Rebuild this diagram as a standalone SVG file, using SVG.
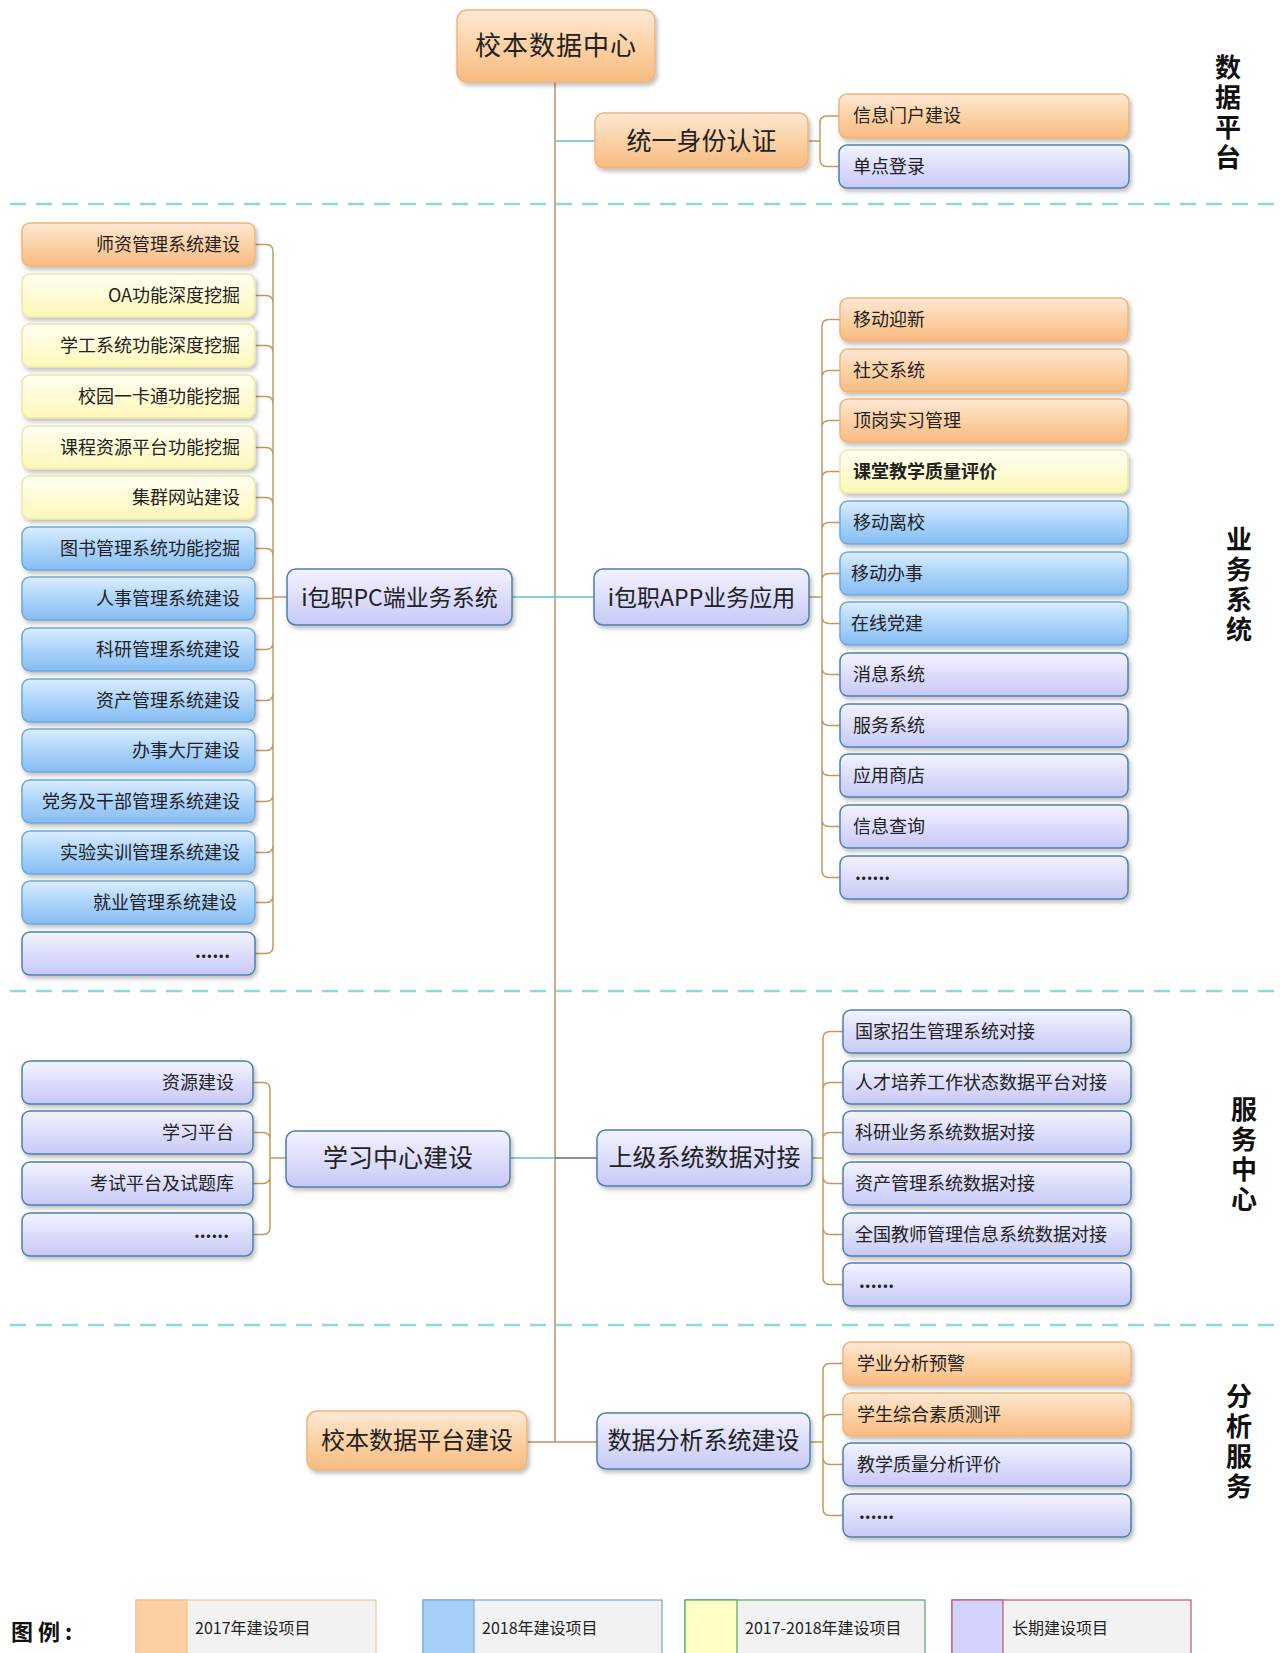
<svg xmlns="http://www.w3.org/2000/svg" width="1281" height="1653" viewBox="0 0 1281 1653">
<defs>
<linearGradient id="gO" x1="0" y1="0" x2="0" y2="1"><stop offset="0" stop-color="#fee9d5"/><stop offset="0.45" stop-color="#fcd4aa"/><stop offset="1" stop-color="#f8bb80"/></linearGradient>
<linearGradient id="gY" x1="0" y1="0" x2="0" y2="1"><stop offset="0" stop-color="#fffff2"/><stop offset="1" stop-color="#fff7b9"/></linearGradient>
<linearGradient id="gB" x1="0" y1="0" x2="0" y2="1"><stop offset="0" stop-color="#dbeeff"/><stop offset="0.45" stop-color="#b0d6fb"/><stop offset="1" stop-color="#86bdf2"/></linearGradient>
<linearGradient id="gL" x1="0" y1="0" x2="0" y2="1"><stop offset="0" stop-color="#f3f3ff"/><stop offset="1" stop-color="#c7c9f6"/></linearGradient>
<filter id="sh" x="-10%" y="-20%" width="125%" height="150%"><feDropShadow dx="2" dy="3" stdDeviation="2" flood-color="#000" flood-opacity="0.25"/></filter>
</defs>
<style>
rect.n{stroke-width:1.5;filter:url(#sh)}
.o{fill:url(#gO);stroke:#efb47c}
.y{fill:url(#gY);stroke:#ece6a6}
.b{fill:url(#gB);stroke:#6ea8de}
.l{fill:url(#gL);stroke:#4f7fae}
text{font-family:"Noto Sans CJK SC","Noto Sans CJK JP",sans-serif;fill:#222}
.t{font-size:18px}
.r{text-anchor:end}
.c{text-anchor:middle}
.h{font-size:24px;text-anchor:middle}
.side{font-size:26px;font-weight:bold;fill:#111;writing-mode:vertical-rl;letter-spacing:4px}
.dash{stroke:#8fd8dc;stroke-width:2.5;stroke-dasharray:16 10;fill:none}
.trunk{stroke:#b8946a;stroke-width:1.5;fill:none}
.br{stroke:#c39a5e;stroke-width:1.5;fill:none}
.teal{stroke:#5fc4cc;stroke-width:1.5;fill:none}
.dk{stroke:#56707e;stroke-width:1.5;fill:none}
.lg{font-size:16px;fill:#222}
</style>
<rect x="0" y="0" width="1281" height="1653" fill="#ffffff"/>
<g id="dividers">
<path class="dash" d="M10,204 H1281"/>
<path class="dash" d="M10,991 H1281"/>
<path class="dash" d="M10,1325 H1281"/>
</g>
<g id="section-labels">
<text class="side" x="1228" y="54">数据平台</text>
<text class="side" x="1239" y="526">业务系统</text>
<text class="side" x="1244" y="1096">服务中心</text>
<text class="side" x="1239" y="1383">分析服务</text>
</g>
<g id="connectors">
<path class="trunk" d="M555,82 V1442"/>
<path class="teal" d="M555,141 H595"/>
<path class="teal" d="M512,597 H555"/>
<path class="teal" d="M555,597 H594"/>
<path class="teal" d="M510,1158 H555"/>
<path class="dk" d="M555,1158 H597"/>
<path class="trunk" d="M527,1442 H597"/>
<path class="br" d="M808,141 H820 M839,116 H827 Q820,116 820,123 V159.5 Q820,166.5 827,166.5 H840"/>
<path class="br" d="M287,597 H273 M273,251.5 V946.5 M255,244.5 H266 Q273,244.5 273,251.5 M255,953.5 H266 Q273,953.5 273,946.5
M255,295.5 H266 Q273,295.5 273,302.5 M255,345.5 H266 Q273,345.5 273,352.5 M255,396.5 H266 Q273,396.5 273,403.5 M255,447.5 H266 Q273,447.5 273,454.5 M255,497.5 H266 Q273,497.5 273,504.5 M255,548.5 H266 Q273,548.5 273,555.5
M255,598.5 H273
M255,649.5 H266 Q273,649.5 273,642.5 M255,700.5 H266 Q273,700.5 273,693.5 M255,750.5 H266 Q273,750.5 273,743.5 M255,801.5 H266 Q273,801.5 273,794.5 M255,852.5 H266 Q273,852.5 273,845.5 M255,902.5 H266 Q273,902.5 273,895.5"/>
<path class="br" d="M809,597 H822 M822,326.5 V870.5 M840,319.5 H829 Q822,319.5 822,326.5 M840,877.5 H829 Q822,877.5 822,870.5
M840,370.5 H829 Q822,370.5 822,377.5 M840,420.5 H829 Q822,420.5 822,427.5 M840,471.5 H829 Q822,471.5 822,478.5 M840,522.5 H829 Q822,522.5 822,529.5 M840,573.5 H829 Q822,573.5 822,580.5
M840,623.5 H829 Q822,623.5 822,616.5 M840,674.5 H829 Q822,674.5 822,667.5 M840,725.5 H829 Q822,725.5 822,718.5 M840,775.5 H829 Q822,775.5 822,768.5 M840,826.5 H829 Q822,826.5 822,819.5"/>
<path class="br" d="M286,1158 H270 M270,1089.5 V1227.5 M253,1082.5 H263 Q270,1082.5 270,1089.5 M253,1234.5 H263 Q270,1234.5 270,1227.5 M253,1132.5 H263 Q270,1132.5 270,1139.5 M253,1183.5 H263 Q270,1183.5 270,1176.5"/>
<path class="br" d="M812,1158 H823 M823,1038.5 V1277.5 M843,1031.5 H830 Q823,1031.5 823,1038.5 M843,1284.5 H830 Q823,1284.5 823,1277.5 M843,1082.5 H830 Q823,1082.5 823,1089.5 M843,1132.5 H830 Q823,1132.5 823,1139.5 M843,1183.5 H830 Q823,1183.5 823,1176.5 M843,1234.5 H830 Q823,1234.5 823,1227.5"/>
<path class="br" d="M810,1442 H823 M823,1370.5 V1508.5 M843,1363.5 H830 Q823,1363.5 823,1370.5 M843,1515.5 H830 Q823,1515.5 823,1508.5 M843,1414.5 H830 Q823,1414.5 823,1421.5 M843,1464.5 H830 Q823,1464.5 823,1457.5"/>
</g>
<g id="root"><rect class="n o" x="457" y="10" width="198" height="72" rx="10"/><text x="556" y="55" class="c" style="font-size:26px;letter-spacing:1px">校本数据中心</text></g>
<g id="tysfrz"><rect class="n o" x="595" y="113" width="213" height="55" rx="9"/><text x="701.5" y="150" class="h" style="font-size:25px">统一身份认证</text></g>
<g id="xxmh"><rect class="n o" x="839" y="94" width="290" height="44" rx="8"/><text class="t" x="853" y="122">信息门户建设</text></g>
<g id="dddl"><rect class="n l" x="839" y="145" width="290" height="43" rx="8"/><text class="t" x="853" y="173">单点登录</text></g>

<g id="pc"><rect class="n l" x="287" y="569" width="225" height="56" rx="9"/><text x="399.5" y="606" class="h" style="font-size:23px">i包职PC端业务系统</text></g>
<g id="app"><rect class="n l" x="594" y="569" width="215" height="56" rx="9"/><text x="701.5" y="606" class="h" style="font-size:23px">i包职APP业务应用</text></g>

<g id="pc1"><rect class="n o" x="22" y="223" width="233" height="43" rx="8"/><text class="t r" x="240" y="251">师资管理系统建设</text></g>
<g id="pc2"><rect class="n y" x="22" y="274" width="233" height="43" rx="8"/><text class="t r" x="240" y="302">OA功能深度挖掘</text></g>
<g id="pc3"><rect class="n y" x="22" y="324" width="233" height="43" rx="8"/><text class="t r" x="240" y="352">学工系统功能深度挖掘</text></g>
<g id="pc4"><rect class="n y" x="22" y="375" width="233" height="43" rx="8"/><text class="t r" x="240" y="403">校园一卡通功能挖掘</text></g>
<g id="pc5"><rect class="n y" x="22" y="426" width="233" height="43" rx="8"/><text class="t r" x="240" y="454">课程资源平台功能挖掘</text></g>
<g id="pc6"><rect class="n y" x="22" y="476" width="233" height="43" rx="8"/><text class="t r" x="240" y="504">集群网站建设</text></g>
<g id="pc7"><rect class="n b" x="22" y="527" width="233" height="43" rx="8"/><text class="t r" x="240" y="555">图书管理系统功能挖掘</text></g>
<g id="pc8"><rect class="n b" x="22" y="577" width="233" height="43" rx="8"/><text class="t r" x="240" y="605">人事管理系统建设</text></g>
<g id="pc9"><rect class="n b" x="22" y="628" width="233" height="43" rx="8"/><text class="t r" x="240" y="656">科研管理系统建设</text></g>
<g id="pc10"><rect class="n b" x="22" y="679" width="233" height="43" rx="8"/><text class="t r" x="240" y="707">资产管理系统建设</text></g>
<g id="pc11"><rect class="n b" x="22" y="729" width="233" height="43" rx="8"/><text class="t r" x="240" y="757">办事大厅建设</text></g>
<g id="pc12"><rect class="n b" x="22" y="780" width="233" height="43" rx="8"/><text class="t r" x="240" y="808">党务及干部管理系统建设</text></g>
<g id="pc13"><rect class="n b" x="22" y="831" width="233" height="43" rx="8"/><text class="t r" x="240" y="859">实验实训管理系统建设</text></g>
<g id="pc14"><rect class="n b" x="22" y="881" width="233" height="43" rx="8"/><text class="t r" x="237" y="909">就业管理系统建设</text></g>
<g id="pc15"><rect class="n l" x="22" y="932" width="233" height="43" rx="8"/><text class="t r" x="230" y="958" style="font-weight:bold">......</text></g>

<g id="app1"><rect class="n o" x="840" y="298" width="288" height="43" rx="8"/><text class="t" x="853" y="326">移动迎新</text></g>
<g id="app2"><rect class="n o" x="840" y="349" width="288" height="43" rx="8"/><text class="t" x="853" y="377">社交系统</text></g>
<g id="app3"><rect class="n o" x="840" y="399" width="288" height="43" rx="8"/><text class="t" x="853" y="427">顶岗实习管理</text></g>
<g id="app4"><rect class="n y" x="840" y="450" width="288" height="43" rx="8"/><text class="t" x="853" y="478" style="font-weight:bold">课堂教学质量评价</text></g>
<g id="app5"><rect class="n b" x="840" y="501" width="288" height="43" rx="8"/><text class="t" x="853" y="529">移动离校</text></g>
<g id="app6"><rect class="n b" x="840" y="552" width="288" height="43" rx="8"/><text class="t" x="851" y="580">移动办事</text></g>
<g id="app7"><rect class="n b" x="840" y="602" width="288" height="43" rx="8"/><text class="t" x="851" y="630">在线党建</text></g>
<g id="app8"><rect class="n l" x="840" y="653" width="288" height="43" rx="8"/><text class="t" x="853" y="681">消息系统</text></g>
<g id="app9"><rect class="n l" x="840" y="704" width="288" height="43" rx="8"/><text class="t" x="853" y="732">服务系统</text></g>
<g id="app10"><rect class="n l" x="840" y="754" width="288" height="43" rx="8"/><text class="t" x="853" y="782">应用商店</text></g>
<g id="app11"><rect class="n l" x="840" y="805" width="288" height="43" rx="8"/><text class="t" x="853" y="833">信息查询</text></g>
<g id="app12"><rect class="n l" x="840" y="856" width="288" height="43" rx="8"/><text class="t" x="855" y="880" style="font-weight:bold">......</text></g>

<g id="xxzx"><rect class="n l" x="286" y="1131" width="224" height="56" rx="9"/><text x="398" y="1167" class="h" style="font-size:25px">学习中心建设</text></g>
<g id="xx1"><rect class="n l" x="22" y="1061" width="231" height="43" rx="8"/><text class="t r" x="234" y="1089">资源建设</text></g>
<g id="xx2"><rect class="n l" x="22" y="1111" width="231" height="43" rx="8"/><text class="t r" x="234" y="1139">学习平台</text></g>
<g id="xx3"><rect class="n l" x="22" y="1162" width="231" height="43" rx="8"/><text class="t r" x="234" y="1190">考试平台及试题库</text></g>
<g id="xx4"><rect class="n l" x="22" y="1213" width="231" height="43" rx="8"/><text class="t r" x="229" y="1238" style="font-weight:bold">......</text></g>

<g id="sjdj"><rect class="n l" x="597" y="1130" width="215" height="56" rx="9"/><text x="704.5" y="1166" class="h">上级系统数据对接</text></g>
<g id="dj1"><rect class="n l" x="843" y="1010" width="288" height="43" rx="8"/><text class="t" x="855" y="1038">国家招生管理系统对接</text></g>
<g id="dj2"><rect class="n l" x="843" y="1061" width="288" height="43" rx="8"/><text class="t" x="855" y="1089">人才培养工作状态数据平台对接</text></g>
<g id="dj3"><rect class="n l" x="843" y="1111" width="288" height="43" rx="8"/><text class="t" x="855" y="1139">科研业务系统数据对接</text></g>
<g id="dj4"><rect class="n l" x="843" y="1162" width="288" height="43" rx="8"/><text class="t" x="855" y="1190">资产管理系统数据对接</text></g>
<g id="dj5"><rect class="n l" x="843" y="1213" width="288" height="43" rx="8"/><text class="t" x="855" y="1241">全国教师管理信息系统数据对接</text></g>
<g id="dj6"><rect class="n l" x="843" y="1263" width="288" height="43" rx="8"/><text class="t" x="859" y="1288" style="font-weight:bold">......</text></g>

<g id="xbpt"><rect class="n o" x="307" y="1411" width="220" height="59" rx="10"/><text x="417" y="1449" class="h">校本数据平台建设</text></g>
<g id="sjfx"><rect class="n l" x="597" y="1413" width="213" height="56" rx="9"/><text x="703.5" y="1449" class="h">数据分析系统建设</text></g>
<g id="fx1"><rect class="n o" x="843" y="1342" width="288" height="43" rx="8"/><text class="t" x="857" y="1370">学业分析预警</text></g>
<g id="fx2"><rect class="n o" x="843" y="1393" width="288" height="43" rx="8"/><text class="t" x="857" y="1421">学生综合素质测评</text></g>
<g id="fx3"><rect class="n l" x="843" y="1443" width="288" height="43" rx="8"/><text class="t" x="857" y="1471">教学质量分析评价</text></g>
<g id="fx4"><rect class="n l" x="843" y="1494" width="288" height="43" rx="8"/><text class="t" x="859" y="1519" style="font-weight:bold">......</text></g>

<g id="legend">
<text x="11" y="1640" style="font-size:22px;font-weight:bold;fill:#111">图 例 :</text>
<rect x="136" y="1600" width="240" height="60" fill="#f2f2f2" stroke="#f3c592" stroke-width="1.2"/>
<rect x="136" y="1600" width="51" height="60" fill="#fcd0a2" stroke="#f3c592" stroke-width="1.2"/>
<text class="lg" x="195" y="1634">2017年建设项目</text>
<rect x="423" y="1600" width="239" height="60" fill="#f2f2f2" stroke="#7ea9c9" stroke-width="1.2"/>
<rect x="423" y="1600" width="51" height="60" fill="#a6cff8" stroke="#7ea9c9" stroke-width="1.2"/>
<text class="lg" x="482" y="1634">2018年建设项目</text>
<rect x="685" y="1600" width="240" height="60" fill="#f2f2f2" stroke="#52a86a" stroke-width="1.2"/>
<rect x="685" y="1600" width="52" height="60" fill="#ffffc6" stroke="#52a86a" stroke-width="1.2"/>
<text class="lg" x="745" y="1634">2017-2018年建设项目</text>
<rect x="952" y="1600" width="239" height="60" fill="#f2f2f2" stroke="#b85a6e" stroke-width="1.2"/>
<rect x="952" y="1600" width="51" height="60" fill="#d2d2fa" stroke="#b85a6e" stroke-width="1.2"/>
<text class="lg" x="1012" y="1634">长期建设项目</text>
</g>
</svg>
